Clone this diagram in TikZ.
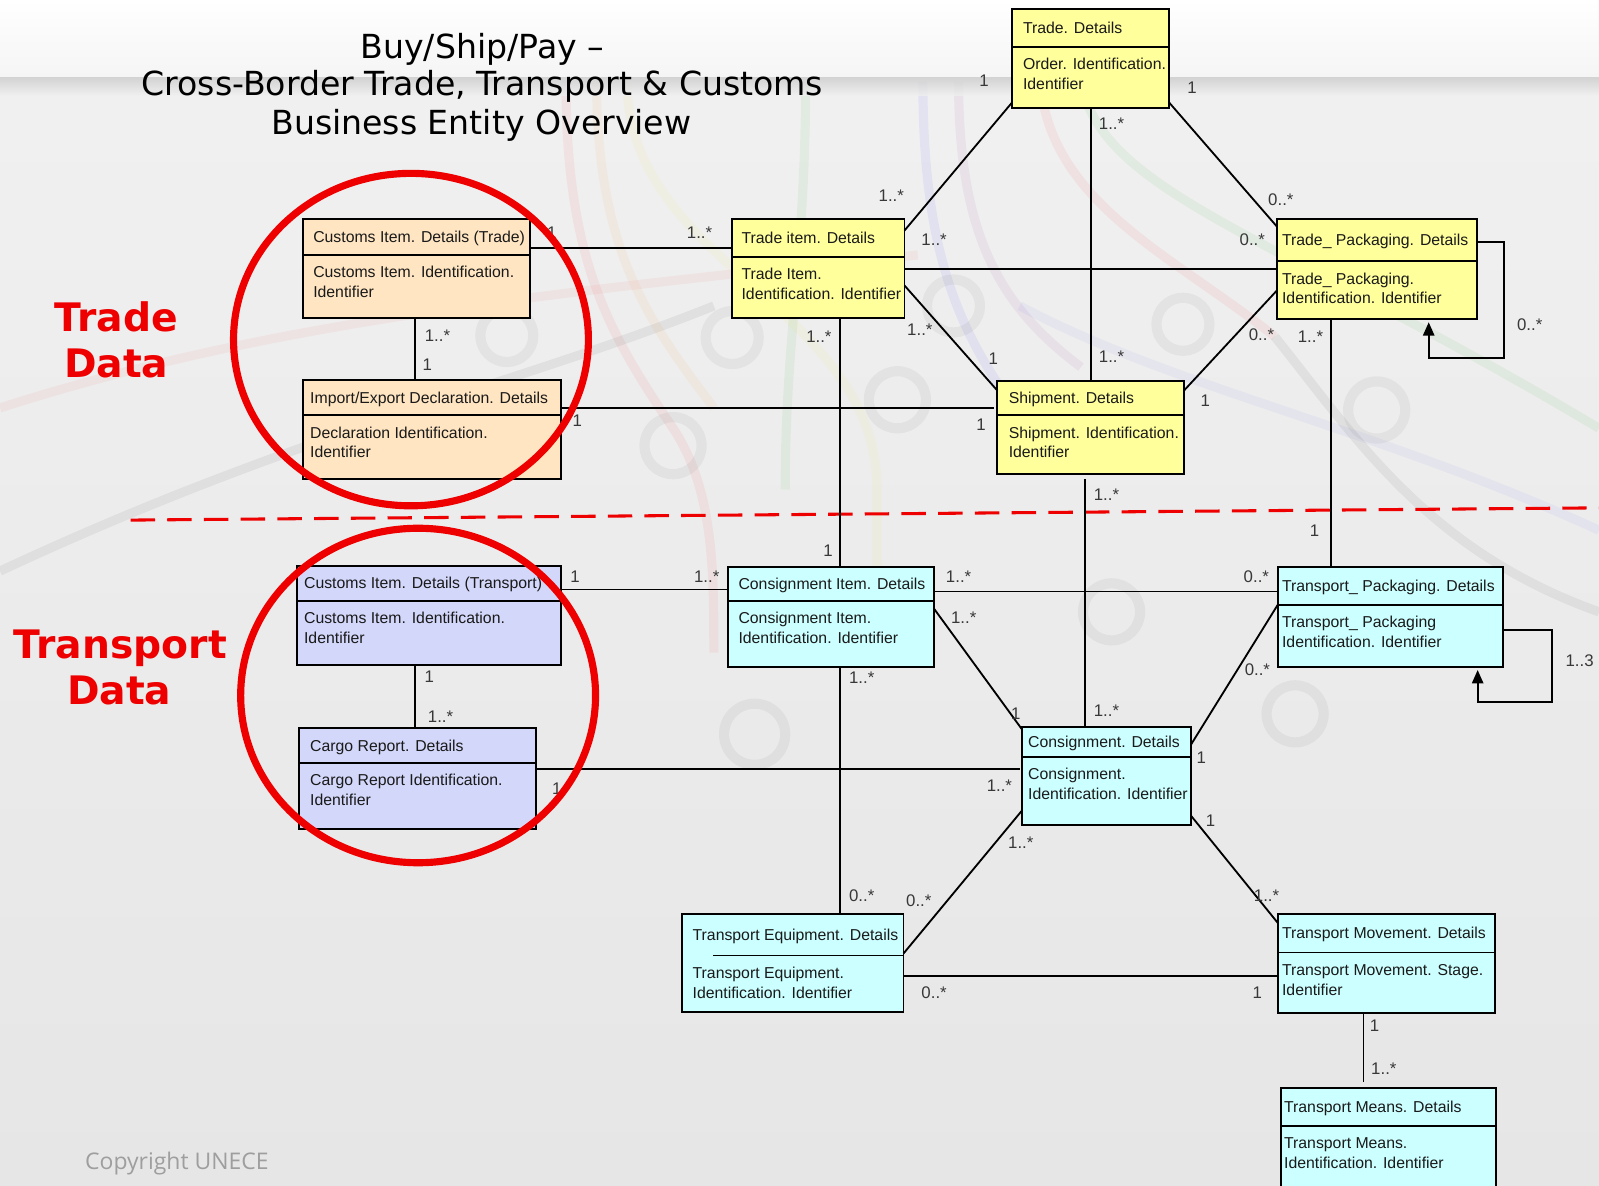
\documentclass[tikz,border=0pt]{standalone}
\usepackage{fontspec}
\setmainfont{Liberation Sans}
\newfontfamily\titlefont{DejaVu Sans}
\newfontfamily\copyfont{Open Sans}
\usetikzlibrary{arrows.meta,fit}
\definecolor{peach}{HTML}{FFE5C2}
\definecolor{umlyellow}{HTML}{FFFF9C}
\definecolor{lavend}{HTML}{D3D7FA}
\definecolor{umlcyan}{HTML}{CCFFFF}
\definecolor{txtcol}{HTML}{1A1A1A}
\definecolor{multcol}{HTML}{383838}
\definecolor{circred}{HTML}{EE0000}
\definecolor{bgtop}{HTML}{F1F1F1}
\definecolor{bgbot}{HTML}{E6E6E6}
\tikzset{
  umlbox/.style={draw=black, line width=1.8pt, inner sep=0pt, outer sep=0pt},
  boxtxt/.style={font=\fontsize{15.5}{18}\selectfont, text=txtcol, inner sep=0pt, anchor=base west},
  mult/.style={font=\fontsize{16.5}{18}\selectfont, text=multcol, inner sep=0pt},
  conn/.style={line width=1.8pt, draw=black},
  loopconn/.style={conn, -{Triangle[length=13pt,width=11pt]}, shorten >=3pt},
  titletxt/.style={font=\titlefont\fontsize{32.5}{37}\selectfont, text=black, anchor=base},
  bigred/.style={font=\titlefont\bfseries\fontsize{38.5}{45}\selectfont, text=circred, anchor=base},
  redring/.style={draw=circred, line width=7pt},
  bgring/.style={draw=black, draw opacity=0.045, line width=10pt},
  bgline/.style={line width=9pt, draw opacity=0.055},
}
\def\ubparse#1/#2/#3/#4/#5/#6\relax{\def\bxa{#1}\def\bya{#2}\def\bxb{#3}\def\byb{#4}\def\byd{#5}\def\bxo{#6}}
\newcommand\umlent[6]{%
  \ubparse#2\relax
  \node[umlbox, fill=#3, fit={(\bxa,\bya) (\bxb,\byb)}] (#1) {};
  \draw[line width=1.8pt] (\bxa,\byd) -- (\bxb,\byd);
  \node[boxtxt] (#1h) at ({\bxa+\bxo},{(\bya+\byd)/2+5.5}) {#4};
  \node[boxtxt] (#1a) at ({\bxa+\bxo},{\byd+22.5}) {#5};
  \node[boxtxt] (#1b) at ({\bxa+\bxo},{\byd+42}) {#6};
}
\newcount\mlc
\newcommand\ml[3]{\global\advance\mlc by 1\relax\node[mult] (ml\the\mlc) at (#1,#2) {#3};}
\begin{document}
\begin{tikzpicture}[x=1pt,y=-1pt]
\useasboundingbox (0,0) rectangle (1568,1163);
% background
\shade[top color=bgtop, bottom color=bgbot] (0,0) rectangle (1568,1163);
% faint subway-map backdrop
\draw[bgline, red] (555,80) .. controls (555,260) and (600,330) .. (660,420) .. controls (700,480) and (700,560) .. (700,640);
\draw[bgline, orange] (585,80) .. controls (585,250) and (640,320) .. (700,400);
\draw[bgline, yellow!80!orange] (615,80) .. controls (615,260) and (860,300) .. (860,480) -- (860,620);
\draw[bgline, green!60!black] (790,80) .. controls (790,250) and (770,330) .. (770,480);
\draw[bgline, blue] (905,80) .. controls (905,250) and (940,330) .. (1010,420);
\draw[bgline, violet] (940,80) .. controls (940,230) and (980,300) .. (1060,360);
\draw[bgline, red] (1020,80) .. controls (1030,200) and (1150,250) .. (1250,330);
\draw[bgline, green!60!black] (1060,80) .. controls (1080,190) and (1250,230) .. (1568,420);
\draw[bgline, blue!70] (1000,300) .. controls (1150,380) and (1350,420) .. (1568,520);
\draw[bgline, black] (0,560) .. controls (300,420) and (500,380) .. (700,300);
\draw[bgline, red!80] (0,400) .. controls (250,320) and (500,290) .. (900,250);
\draw[bgline, black] (1250,330) .. controls (1330,430) and (1400,540) .. (1568,600);
\draw[bgring] (497,329) circle[radius=26pt];
\draw[bgring] (718,331) circle[radius=26pt];
\draw[bgring] (935,300) circle[radius=26pt];
\draw[bgring] (1160,318) circle[radius=26pt];
\draw[bgring] (880,392) circle[radius=28pt];
\draw[bgring] (660,437) circle[radius=28pt];
\draw[bgring] (1350,402) circle[radius=28pt];
\draw[bgring] (1090,600) circle[radius=28pt];
\draw[bgring] (740,720) circle[radius=30pt];
\draw[bgring] (1270,700) circle[radius=28pt];
% top band
\shade[top color=white, bottom color=white!96!black] (0,0) rectangle (1568,76);
\shade[top color=black!20, bottom color=bgtop, fill opacity=0.8] (0,76) rectangle (1568,94);
% title
\node[titletxt] (title1) at (473,57) {Buy/Ship/Pay –};
\node[titletxt] (title2) at (473,94) {Cross-Border Trade, Transport \& Customs};
\node[titletxt] (title3) at (472,132) {Business Entity Overview};
% section labels
\node[bigred] (trA) at (114,325) {Trade};
\node[bigred] (trB) at (114,370) {Data};
\node[bigred] (tpA) at (118,646) {Transport};
\node[bigred] (tpB) at (117,691) {Data};
\node[font=\copyfont\fontsize{22.5}{24}\selectfont, text=black!38, anchor=base west] (copy) at (80,1147) {Copyright UNECE};
% dashed separator
\draw[circred, line width=3pt, dash pattern=on 24pt off 12pt] (128,510) -- (1568,498);
% entities
\umlent{ctr}{297/215/520/312/250/10}{peach}{Customs Item. Details (Trade)}{Customs Item. Identification.}{Identifier}
\umlent{ied}{297/373/550/470/407/7}{peach}{Import/Export Declaration. Details}{Declaration Identification.}{Identifier}
\umlent{tid}{718/215/887/312/252/9}{umlyellow}{Trade item. Details}{Trade Item.}{Identification. Identifier}
\umlent{trd}{992/9/1146/106/46/11}{umlyellow}{Trade. Details}{Order. Identification.}{Identifier}
\umlent{tpk}{1252/215/1448/313/256/5}{umlyellow}{Trade\_ Packaging. Details}{Trade\_ Packaging.}{Identification. Identifier}
\umlent{shp}{978/374/1161/465/407/11}{umlyellow}{Shipment. Details}{Shipment. Identification.}{Identifier}
\umlent{ctp}{291/555/550/652/589/7}{lavend}{Customs Item. Details (Transport)}{Customs Item. Identification.}{Identifier}
\umlent{crg}{293/714/526/813/748/11}{lavend}{Cargo Report. Details}{Cargo Report Identification.}{Identifier}
\umlent{cid}{714/556/916/654/589/10}{umlcyan}{Consignment Item. Details}{Consignment Item.}{Identification. Identifier}
\umlent{tpp}{1253/556/1474/654/593/4}{umlcyan}{Transport\_ Packaging. Details}{Transport\_ Packaging}{Identification. Identifier}
\umlent{con}{1002/713/1168/809/742/6}{umlcyan}{Consignment. Details}{Consignment.}{Identification. Identifier}
\umlent{teq}{669/896/886/992/937/10}{umlcyan}{Transport Equipment. Details}{Transport Equipment.}{Identification. Identifier}
\umlent{tmv}{1253/896/1466/993/934/4}{umlcyan}{Transport Movement. Details}{Transport Movement. Stage.}{Identifier}
\umlent{tmn}{1256/1067/1467/1180/1104/3}{umlcyan}{Transport Means. Details}{Transport Means.}{Identification. Identifier}
\fill[umlcyan] (670,935) rectangle (699,939);
% connectors
\draw[conn] (ctr.east |- 0,243) -- (tid.west |- 0,243);
\draw[conn] (407,0 |- ctr.south) -- (407,0 |- ied.north);
\draw[conn] (ied.east |- 0,400) -- (975,400);
\draw[conn] (824,0 |- tid.south) -- (824,0 |- cid.north);
\draw[conn] (tid.east |- 0,226) -- (trd.west |- 0,101);
\draw[conn] (tid.east |- 0,264) -- (tpk.west |- 0,264);
\draw[conn] (trd.east |- 0,100) -- (tpk.west |- 0,222);
\draw[conn] (1070,0 |- trd.south) -- (1070,0 |- shp.north);
\draw[conn] (tid.east |- 0,280) -- (shp.west |- 0,383);
\draw[conn] (shp.east |- 0,383) -- (tpk.west |- 0,285);
\draw[loopconn] (tpk.east |- 0,237) -- (1475,237) -- (1475,351) -- (1401,351) -- (1401,0 |- tpk.south);
\draw[conn] (1305,0 |- tpk.south) -- (1305,0 |- tpp.north);
\draw[conn] (1064,470) -- (1064,0 |- con.north);
\draw[conn] (ctp.east |- 0,578) -- (cid.west |- 0,578);
\draw[conn] (407,0 |- ctp.south) -- (407,0 |- crg.north);
\draw[conn] (crg.east |- 0,754) -- (1000,754);
\draw[conn] (cid.east |- 0,580) -- (tpp.west |- 0,580);
\draw[conn] (cid.east |- 0,597) -- (con.west |- 0,715);
\draw[conn] (824,0 |- cid.south) -- (824,0 |- teq.north);
\draw[conn] (con.east |- 0,730) -- (tpp.west |- 0,593);
\draw[loopconn] (tpp.east |- 0,618) -- (1522,618) -- (1522,688) -- (1449,688) -- (1449,0 |- tpp.south);
\draw[conn] (con.west |- 0,795) -- (teq.east |- 0,935);
\draw[conn] (con.east |- 0,800) -- (tmv.west |- 0,905);
\draw[conn] (teq.east |- 0,957) -- (tmv.west |- 0,957);
\draw[conn] (1337,0 |- tmv.south) -- (1337,1061);
% multiplicities
\ml{541}{228}{1}\ml{686}{228}{1..*}
\ml{429}{329}{1..*}\ml{419}{358}{1}
\ml{566}{413}{1}\ml{962}{416}{1}
\ml{803}{330}{1..*}\ml{812}{540}{1}
\ml{874}{192}{1..*}\ml{965}{79}{1}
\ml{916}{235}{1..*}\ml{1228}{235}{0..*}
\ml{1169}{86}{1}\ml{1256}{196}{0..*}
\ml{1090}{121}{1..*}\ml{1090}{350}{1..*}
\ml{902}{323}{1..*}\ml{974}{352}{1}
\ml{1182}{393}{1}\ml{1237}{328}{0..*}
\ml{1500}{318}{0..*}
\ml{1285}{330}{1..*}\ml{1289}{520}{1}
\ml{1085}{485}{1..*}\ml{1085}{697}{1..*}
\ml{564}{566}{1}\ml{693}{566}{1..*}
\ml{421}{664}{1}\ml{432}{703}{1..*}
\ml{546}{773}{1}\ml{980}{770}{1..*}
\ml{940}{566}{1..*}\ml{1232}{566}{0..*}
\ml{945}{606}{1..*}\ml{996}{700}{1}
\ml{845}{665}{1..*}\ml{845}{878}{0..*}
\ml{1178}{743}{1}\ml{1233}{657}{0..*}
\ml{1549}{648}{1..3}
\ml{1001}{826}{1..*}\ml{901}{883}{0..*}
\ml{1187}{805}{1}\ml{1242}{878}{1..*}
\ml{916}{973}{0..*}\ml{1233}{973}{1}
\ml{1348}{1006}{1}\ml{1357}{1048}{1..*}
% red rings
\draw[redring] (403,333) ellipse [x radius=174pt, y radius=163pt];
\draw[redring] (410,682) ellipse [x radius=174pt, y radius=164pt];
\end{tikzpicture}
\end{document}
